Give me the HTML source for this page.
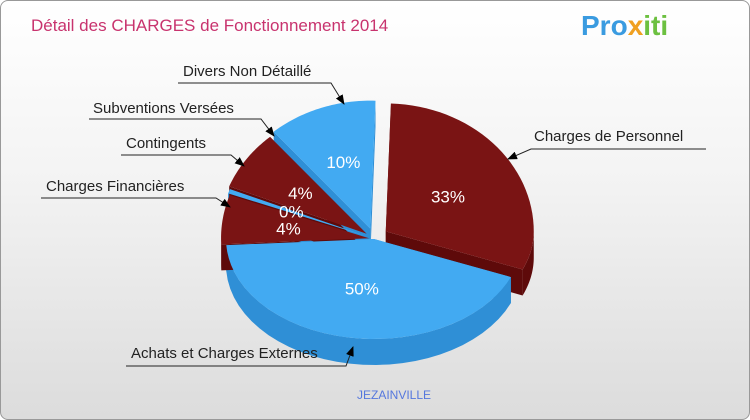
<!DOCTYPE html>
<html><head><meta charset="utf-8"><style>
body{margin:0;width:750px;height:420px;overflow:hidden;font-family:"Liberation Sans",sans-serif}
#wrap{position:absolute;left:0;top:0;width:748px;height:418px;border:1px solid #999;border-radius:8px;background:linear-gradient(#ffffff,#f4f4f4 40%,#dcdcdc);overflow:hidden}
</style></head><body>
<div id="wrap">
<svg id="svg" width="750" height="420">
<text x="30" y="30" font-size="17" fill="#c8336e">Détail des CHARGES de Fonctionnement 2014</text>
<text x="580" y="34" font-size="28" font-weight="bold"><tspan fill="#3a9be0">Pro</tspan><tspan fill="#f0a020">x</tspan><tspan fill="#6cc040">iti</tspan></text>
<text x="393" y="398" font-size="12" fill="#5577dd" text-anchor="middle">JEZAINVILLE</text>
</svg></div>
<script>
const categories=["Charges de Personnel","Achats et Charges Externes","Charges Financières","Contingents","Subventions Versées","Divers Non Détaillé"];
const values=[33,50,4,0.3,4,10];
const pctLabels=["33%","50%","4%","0%","4%","10%"];
const colors=["#7a1414","#42aaf2","#7a1414","#42aaf2","#7a1414","#42aaf2"];
const sides=["#5e0a0a","#2f8fd6","#5e0a0a","#2f8fd6","#5e0a0a","#2f8fd6"];
const explode=[14,0,5,7,9,11];
const labelPos=[[533,140,705,148,530,148,507,158],[130,357,125,365,345,365,352,346],[45,190,40,197,215,197,229,206],[125,147,120,154,230,154,243,165],[92,112,88,118,260,118,273,135],[182,75,177,82,330,82,343,103]];
const svg=document.getElementById('svg');const NS="http://www.w3.org/2000/svg";
const cx=373,cy=238,rx=148,ryF=100,ryB=128,D=26,start=-81;
const projIn=[-81,38,218,248,279],projOut=[-88,24,180,238,272];
const total=values.reduce((a,b)=>a+b,0);
function warp(t){for(let k=0;k<projIn.length-1;k++){if(t<=projIn[k+1]||k==projIn.length-2){return projOut[k]+(t-projIn[k])*(projOut[k+1]-projOut[k])/(projIn[k+1]-projIn[k]);}}}
function pt(a,ox,oy,dz){const r=a*Math.PI/180;const s=Math.sin(r);return [ox+rx*Math.cos(r),oy+(s<0?ryB:ryF)*s+dz];}
function mk(tag,attrs,name){const e=document.createElementNS(NS,tag);for(const k in attrs)e.setAttribute(k,attrs[k]);return e;}
let a=start;const sl=[];
values.forEach((v,i)=>{const t0=a,t1=a+v/total*360;a=t1;const a0=warp(t0),a1=warp(t1);const m=(a0+a1)/2*Math.PI/180;sl.push({i,a0,a1,ox:cx+explode[i]*Math.cos(m),oy:cy+explode[i]*Math.sin(m),m});});
const gs=mk('g',{},'slice-sides');const gt=mk('g',{},'slice-tops');svg.appendChild(gs);svg.appendChild(gt);
sl.forEach(s=>{const {i,a0,a1,ox,oy}=s;
 [a0,a1].forEach(ang=>{const p=pt(ang,ox,oy,0);const d=`M${ox},${oy} L${p[0]},${p[1]} L${p[0]},${p[1]+D} L${ox},${oy+D} Z`;
  gs.appendChild(mk('path',{d,fill:sides[i]},'slice-wall-'+i));});
 const lo=Math.max(a0,0),hi=Math.min(a1,180);
 let segs=[[lo,hi]];if(a1>360){segs.push([360,Math.min(a1,540)]);}
 segs.forEach(([l,h])=>{if(h<=l)return;let d='';const n=30;for(let k=0;k<=n;k++){const p=pt(l+(h-l)*k/n,ox,oy,0);d+=(k?'L':'M')+p[0]+','+p[1];}
  for(let k=n;k>=0;k--){const p=pt(l+(h-l)*k/n,ox,oy,D);d+='L'+p[0]+','+p[1];}
  gs.appendChild(mk('path',{d:d+'Z',fill:sides[i]},'slice-side-'+i));});
 let d=`M${ox},${oy}`;const n=40;for(let k=0;k<=n;k++){const p=pt(a0+(a1-a0)*k/n,ox,oy,0);d+='L'+p[0]+','+p[1];}
 gt.appendChild(mk('path',{d:d+'Z',fill:colors[i]},'slice-'+i));
});
sl.forEach(s=>{const {i,ox,oy}=s;const rr=i<2?0.5:0.55;const p=pt(s.m*180/Math.PI,ox,oy,0);const tx=ox+(p[0]-ox)*rr,ty=oy+(p[1]-oy)*rr+6;
 const t=mk('text',{x:tx,y:ty,'font-size':17,fill:'#fff','text-anchor':'middle'},'pct-label-'+i);t.textContent=pctLabels[i];gt.appendChild(t);});
const defs=mk('defs',{},'defs');defs.innerHTML='<marker id="ar" markerWidth="10" markerHeight="8" refX="9" refY="4" orient="auto" markerUnits="userSpaceOnUse"><path d="M0,0 L10,4 L0,8Z" fill="#000"/></marker>';svg.appendChild(defs);
categories.forEach((c,i)=>{const L=labelPos[i];
 svg.appendChild(mk('polyline',{points:`${L[2]},${L[3]} ${L[4]},${L[5]} ${L[6]},${L[7]}`,fill:'none',stroke:'#222','stroke-width':1,'marker-end':'url(#ar)'},'leader-line-'+i));
 const t=mk('text',{x:L[0],y:L[1],'font-size':15,fill:'#222'},'category-label-'+i);t.textContent=c;svg.appendChild(t);});
</script></body></html>
